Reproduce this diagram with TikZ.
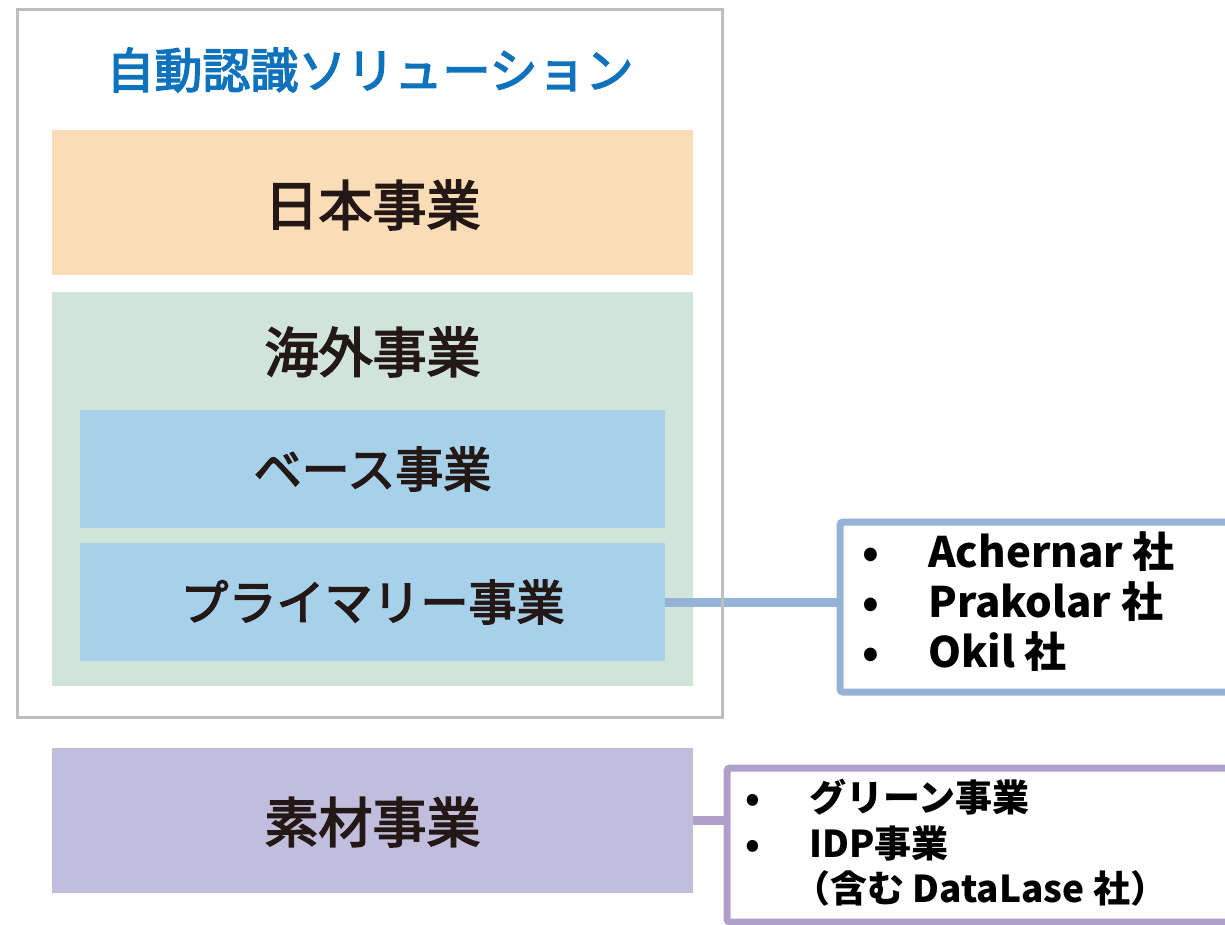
\documentclass[tikz,border=0pt]{standalone}
\usepackage{fontspec}
\newfontfamily\jp{Noto Sans CJK JP}
\newfontfamily\jpm[FakeBold=3]{Noto Sans CJK JP}
\definecolor{titleblue}{HTML}{0E72BC}
\definecolor{framegray}{HTML}{BEBEBE}
\definecolor{peach}{HTML}{FADDB6}
\definecolor{sage}{HTML}{D0E4D9}
\definecolor{sky}{HTML}{A7D1EB}
\definecolor{lilac}{HTML}{C1BDDC}
\definecolor{linkblue}{HTML}{94B3D7}
\definecolor{linkpurple}{HTML}{B09FCA}
\definecolor{ink}{HTML}{231815}
\newcommand{\bul}[2]{\makebox[#1][l]{•}#2}
\begin{document}
\begin{tikzpicture}[x=1pt,y=-1pt,
    seg/.style={rectangle,inner sep=0pt,minimum width=641pt,minimum height=145pt},
    sub/.style={rectangle,inner sep=0pt,fill=sky,minimum width=585pt,minimum height=118pt},
    lbl/.style={inner sep=0pt,text=ink,font=\jpm\fontsize{54}{60}\selectfont},
    sublbl/.style={inner sep=0pt,text=ink,font=\jpm\fontsize{48}{54}\selectfont},
    listbox/.style={rectangle,inner sep=0pt,rounded corners=3pt,fill=white,line width=7pt},
    items/.style={inner sep=0pt,anchor=west,align=left,text=black},
    link/.style={line width=9pt}]
  \useasboundingbox (0,0) rectangle (1225,925);
  \node[text=titleblue,inner sep=0pt,font=\jpm\fontsize{48}{54}\selectfont] (title) at (370,70) {自動認識ソリューション};
  \node[seg,fill=peach] (japan) at (372.5,202.5) {};
  \node[lbl] (japanLbl) at (372.5,205) {日本事業};
  \node[seg,fill=sage,minimum height=394pt] (overseas) at (372.5,489) {};
  \node[lbl] (overseasLbl) at (372.5,352) {海外事業};
  \node[sub] (base) at (372.5,469) {};
  \node[sublbl] (baseLbl) at (372.5,469) {ベース事業};
  \node[sub] (primary) at (372.5,602) {};
  \node[sublbl] (primaryLbl) at (372.5,602) {プライマリー事業};
  \node[seg,fill=lilac] (material) at (372.5,820.5) {};
  \node[lbl] (materialLbl) at (372.5,822) {素材事業};
  % sub-business lists
  \node[listbox,draw=linkblue,minimum width=420pt,minimum height=170pt] (acq) at (1050,607) {};
  \node[items,font=\jp\bfseries\fontsize{42}{50}\selectfont] (acqList) at (862,602)
    {\bul{66pt}{Achernar 社}\\ \bul{66pt}{Prakolar 社}\\ \bul{66pt}{Okil 社}};
  \node[listbox,draw=linkpurple,minimum width=520pt,minimum height=154pt] (mat) at (987,845) {};
  \node[items,font=\jp\bfseries\fontsize{37}{45.5}\selectfont] (matList) at (745,843)
    {\bul{64pt}{グリーン事業}\\ \bul{64pt}{IDP事業}\\ \hspace{48pt}（含む DataLase 社）};
  \draw[link,draw=linkblue] (primary.east) -- (primary.east -| acq.west);
  \draw[link,draw=linkpurple] (material.east) -- (material.east -| mat.west);
  \node[draw=framegray,line width=3pt,inner sep=0pt,minimum width=705pt,minimum height=707pt] (frame) at (369.5,363.5) {};
\end{tikzpicture}
\end{document}
